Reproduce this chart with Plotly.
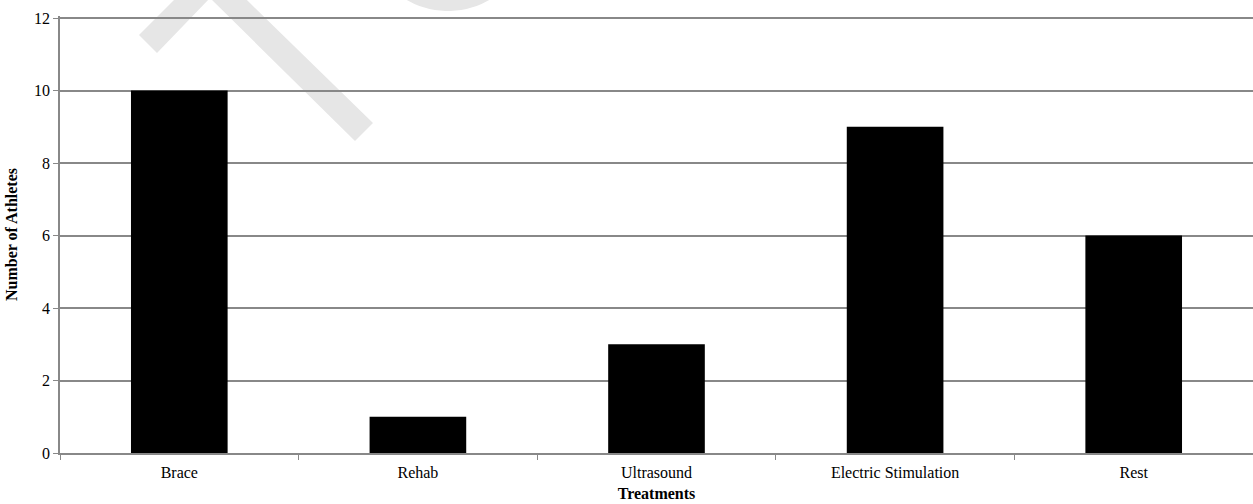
import math
import plotly.graph_objects as go

# Treatment counts
treatments = ["Brace", "Rehab", "Ultrasound", "Electric Stimulation", "Rest"]
athletes = [10, 1, 3, 9, 6]
y_ticks = [0, 2, 4, 6, 8, 10, 12]

W, H = 1253, 504
ML, MR, MT, MB = 60, 0, 16, 51
PW, PH = W - ML - MR, H - MT - MB
UNIT = 36.25  # pixels per athlete on the value axis
Y_TOP = PH / UNIT  # a little headroom so the 12 gridline is drawn


def px(x, y):
    """Pixel position -> paper coordinates."""
    return (x - ML) / PW, (H - MB - y) / PH


def path(points):
    parts = []
    for i, (x, y) in enumerate(points):
        u, v = px(x, y)
        parts.append(("M" if i == 0 else "L") + f"{u:.5f},{v:.5f}")
    return " ".join(parts) + " Z"


fig = go.Figure(
    go.Bar(
        x=treatments,
        y=athletes,
        marker=dict(color="#000000", line=dict(width=0)),
        hoverinfo="x+y",
    )
)

# faint background watermark strokes
wm = "#e6e6e6"
shapes = [
    dict(type="path", xref="paper", yref="paper", layer="below",
         path=path([(139, 35), (210, -36), (373, 123), (355, 141), (210, -2), (157, 53)]),
         fillcolor=wm, line=dict(width=0)),
]
arc = []
cx, cy, r = 448, -72, 83
for k in range(0, 61):
    a = math.radians(35 + k * (110 / 60))
    arc.append((cx + r * math.cos(a), cy + r * math.sin(a)))
r2 = 60
for k in range(60, -1, -1):
    a = math.radians(35 + k * (110 / 60))
    arc.append((cx + r2 * math.cos(a), cy + r2 * math.sin(a)))
shapes.append(dict(type="path", xref="paper", yref="paper", layer="below",
                   path=path(arc), fillcolor=wm, line=dict(width=0)))

font = dict(family="Liberation Serif, Times New Roman, serif", color="#000000", size=16)

fig.update_layout(
    width=W,
    height=H,
    margin=dict(l=ML, r=MR, t=MT, b=MB, pad=0),
    paper_bgcolor="#ffffff",
    plot_bgcolor="#ffffff",
    font=font,
    showlegend=False,
    bargap=0.595,
    shapes=shapes,
    xaxis=dict(
        showgrid=False,
        showline=True,
        linecolor="#888888",
        linewidth=1.5,
        ticks="outside",
        tickson="boundaries",
        ticklen=5,
        tickcolor="#888888",
        tickfont=dict(size=16),
        ticklabelstandoff=4,
        title=dict(text="<b>Treatments</b>", font=dict(size=16), standoff=8),
        fixedrange=True,
    ),
    yaxis=dict(
        range=[0, Y_TOP],
        tickvals=y_ticks,
        showgrid=True,
        gridcolor="#888888",
        gridwidth=1.5,
        showline=True,
        linecolor="#888888",
        linewidth=1.5,
        ticks="outside",
        ticklen=5,
        tickcolor="#888888",
        tickfont=dict(size=16),
        zeroline=False,
        title=dict(text="<b>Number of Athletes</b>", font=dict(size=16), standoff=12),
        fixedrange=True,
    ),
)

fig.write_html("out.html", config={"displayModeBar": False})
